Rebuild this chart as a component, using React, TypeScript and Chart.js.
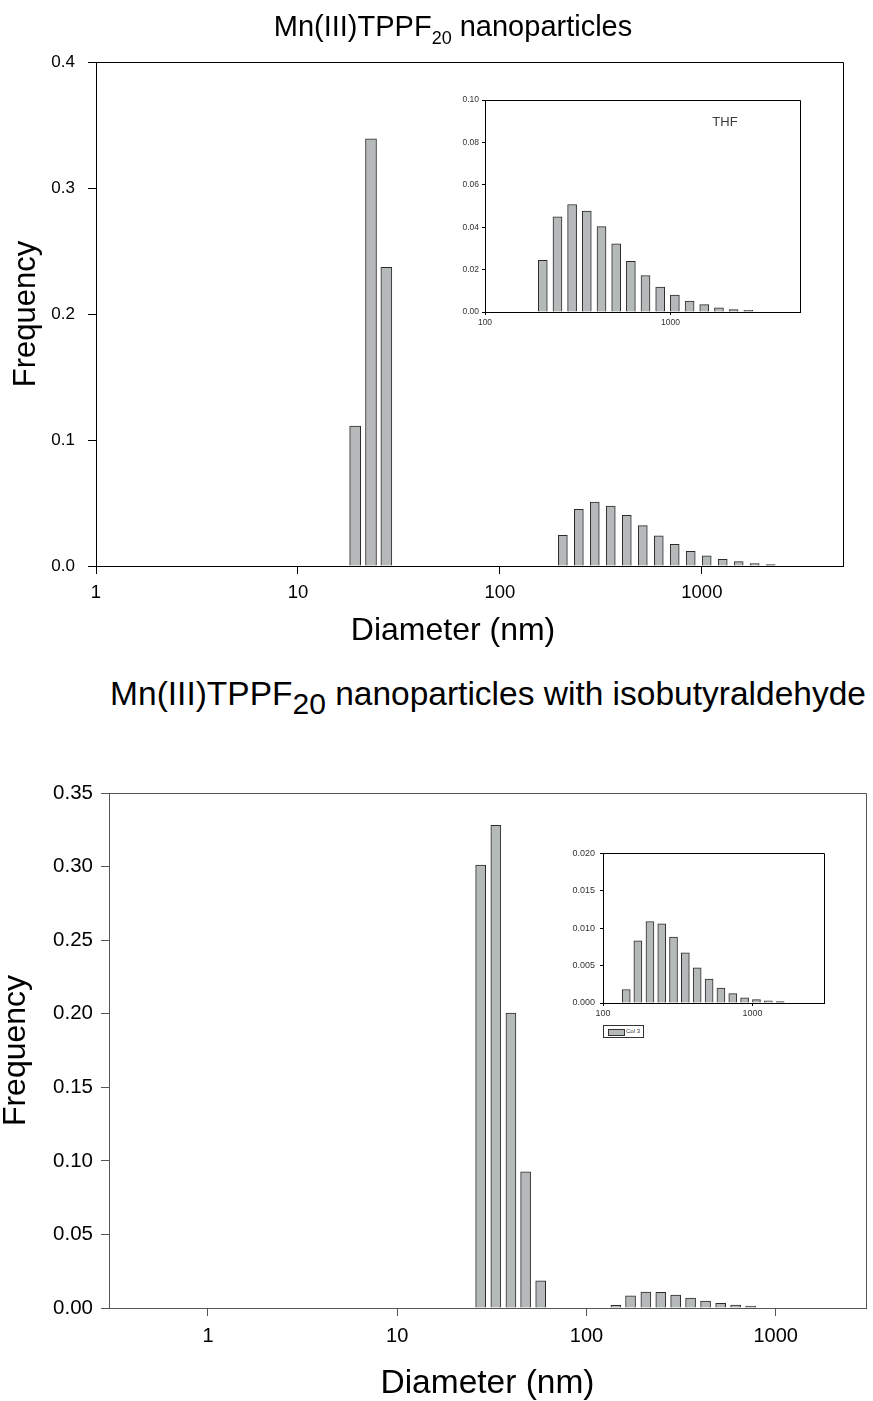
import React, { useEffect, useRef } from 'react';
import { Chart, registerables } from 'chart.js';

Chart.register(...registerables);

const FONT = "'Liberation Sans', Arial, Helvetica, sans-serif";
const BAR_FILL = '#b5b9b9';
const BAR_EDGE = '#2b2b2b';

// ---------- Top panel: Mn(III)TPPF20 nanoparticles (THF) ----------
const thfPeakDiameter = [19.2, 23.0, 27.4];
const thfPeakFreq = [0.111, 0.339, 0.237];
const thfTailDiameter = [205, 246, 295, 354, 425, 510, 612, 734, 881, 1057, 1269, 1522, 1827, 2192, 2631];
const thfTailFreq = [0.0244, 0.0449, 0.0507, 0.0476, 0.0403, 0.0321, 0.0239, 0.0172, 0.0117, 0.008, 0.0052, 0.0035, 0.002, 0.0011, 0.0008];
const topXTicks = [1, 10, 100, 1000];
const topYTicks = [0, 0.1, 0.2, 0.3, 0.4];
const insetTopXTicks = [100, 1000];
const insetTopYTicks = [0, 0.02, 0.04, 0.06, 0.08, 0.1];

// ---------- Bottom panel: with isobutyraldehyde ----------
const isoPeakDiameter = [27.6, 33.2, 39.9, 47.7, 57.3];
const isoPeakFreq = [0.301, 0.328, 0.2005, 0.0925, 0.0184];
const isoTailDiameter = [143, 171, 206, 247, 296, 355, 426, 512, 614, 737, 884, 1061, 1273, 1528, 1834];
const isoTailFreq = [0.0018, 0.0083, 0.0109, 0.0106, 0.0088, 0.0067, 0.0047, 0.0032, 0.002, 0.00125, 0.0007, 0.00045, 0.0003, 0.00018, 0.00013];
const bottomXTicks = [1, 10, 100, 1000];
const bottomYTicks = [0, 0.05, 0.1, 0.15, 0.2, 0.25, 0.3, 0.35];
const insetBottomXTicks = [100, 1000];
const insetBottomYTicks = [0, 0.005, 0.01, 0.015, 0.02];

type Series = { label: string; x: number[]; y: number[]; thickness: number };
type TitleSpec = { text: string; size: number; lineHeight: number; pad: number };
type Spec = {
  left: number;
  top: number;
  width: number;
  height: number;
  padTop: number;
  padRight: number;
  yWidth: number;
  xHeight: number;
  xMin: number;
  xMax: number;
  yMax: number;
  xTicks: number[];
  yTicks: number[];
  yDecimals: number;
  series: Series[];
  xTickSize: number;
  yTickSize: number;
  tickLength: number;
  xTickPad: number;
  yTickPad: number;
  axisColor: string;
  labelColor: string;
  yTitle?: TitleSpec;
  xTitle?: TitleSpec;
};

// bars shorter than about one pixel are not rendered by the original plotting program
function barHeightPx(ctx: any): number {
  const y = ctx.chart.scales.y;
  const raw = ctx.raw as { y: number } | undefined;
  if (!y || !raw) return 99;
  return y.getPixelForValue(0) - y.getPixelForValue(raw.y);
}

function buildConfig(spec: Spec): any {
  const alignPx = (p: number) => Math.round(p - 0.5) + 0.5;
  const frame = {
    id: 'frameBox',
    afterDraw(chart: any) {
      const { ctx, chartArea } = chart;
      const l = alignPx(chartArea.left);
      const r = alignPx(chartArea.right);
      const t = alignPx(chartArea.top);
      const b = alignPx(chartArea.bottom);
      ctx.save();
      ctx.strokeStyle = spec.axisColor;
      ctx.lineWidth = 1;
      ctx.beginPath();
      ctx.moveTo(l, t);
      ctx.lineTo(r, t);
      ctx.lineTo(r, b);
      ctx.stroke();
      ctx.restore();
    },
  };
  return {
    type: 'bar',
    data: {
      datasets: spec.series.map((s) => ({
        label: s.label,
        data: s.x.map((x, j) => ({ x, y: s.y[j] })),
        backgroundColor: (ctx: any) => (barHeightPx(ctx) < 1.1 ? 'rgba(0,0,0,0)' : BAR_FILL),
        borderColor: (ctx: any) => (barHeightPx(ctx) < 1.1 ? 'rgba(0,0,0,0)' : BAR_EDGE),
        borderWidth: 1,
        grouped: false,
        barThickness: s.thickness,
        maxBarThickness: s.thickness,
      })),
    },
    options: {
      responsive: false,
      animation: false,
      devicePixelRatio: 1,
      layout: { padding: { top: spec.padTop, right: spec.padRight, left: 0, bottom: 0 } },
      plugins: { legend: { display: false }, tooltip: { enabled: false }, title: { display: false } },
      scales: {
        x: {
          type: 'logarithmic',
          position: 'bottom',
          min: spec.xMin,
          max: spec.xMax,
          offset: false,
          afterBuildTicks: (scale: any) => {
            scale.ticks = spec.xTicks.map((v) => ({ value: v }));
          },
          afterFit: (scale: any) => {
            scale.height = spec.xHeight;
          },
          grid: {
            display: true,
            offset: false,
            drawOnChartArea: false,
            drawTicks: true,
            tickLength: spec.tickLength,
            color: spec.axisColor,
            lineWidth: 1,
          },
          border: { display: true, color: spec.axisColor, width: 1 },
          ticks: {
            autoSkip: false,
            maxRotation: 0,
            minRotation: 0,
            padding: spec.xTickPad,
            color: spec.labelColor,
            font: { family: FONT, size: spec.xTickSize },
            callback: (v: any) => String(v),
          },
          title: spec.xTitle
            ? {
                display: true,
                text: spec.xTitle.text,
                color: '#000',
                font: { family: FONT, size: spec.xTitle.size, lineHeight: spec.xTitle.lineHeight },
                padding: { top: 0, bottom: spec.xTitle.pad },
              }
            : { display: false },
        },
        y: {
          type: 'linear',
          position: 'left',
          min: 0,
          max: spec.yMax,
          afterBuildTicks: (scale: any) => {
            scale.ticks = spec.yTicks.map((v) => ({ value: v }));
          },
          afterFit: (scale: any) => {
            scale.width = spec.yWidth;
          },
          grid: {
            display: true,
            drawOnChartArea: false,
            drawTicks: true,
            tickLength: spec.tickLength,
            color: spec.axisColor,
            lineWidth: 1,
          },
          border: { display: true, color: spec.axisColor, width: 1 },
          ticks: {
            autoSkip: false,
            padding: spec.yTickPad,
            color: spec.labelColor,
            font: { family: FONT, size: spec.yTickSize },
            callback: (v: any) => Number(v).toFixed(spec.yDecimals),
          },
          title: spec.yTitle
            ? {
                display: true,
                text: spec.yTitle.text,
                color: '#000',
                font: { family: FONT, size: spec.yTitle.size, lineHeight: spec.yTitle.lineHeight },
                padding: { top: spec.yTitle.pad, bottom: 0 },
              }
            : { display: false },
        },
      },
    },
    plugins: [frame],
  };
}

function Panel({ spec }: { spec: Spec }) {
  const ref = useRef<HTMLCanvasElement | null>(null);
  useEffect(() => {
    if (!ref.current) return;
    const chart = new Chart(ref.current, buildConfig(spec));
    return () => chart.destroy();
  }, []);
  return (
    <canvas
      ref={ref}
      width={spec.width}
      height={spec.height}
      style={{ position: 'absolute', left: spec.left, top: spec.top, width: spec.width, height: spec.height }}
    />
  );
}

const topMain: Spec = {
  left: 0, top: 0, width: 873, height: 660,
  padTop: 62, padRight: 30, yWidth: 96, xHeight: 94,
  xMin: 1, xMax: 5000, yMax: 0.4,
  xTicks: topXTicks, yTicks: topYTicks, yDecimals: 1,
  series: [
    { label: 'THF peak', x: thfPeakDiameter, y: thfPeakFreq, thickness: 11 },
    { label: 'THF tail', x: thfTailDiameter, y: thfTailFreq, thickness: 9 },
  ],
  xTickSize: 18.5, yTickSize: 17, tickLength: 8, xTickPad: 8, yTickPad: 13,
  axisColor: '#000', labelColor: '#000',
  yTitle: { text: 'Frequency', size: 31, lineHeight: 1.2, pad: 8 },
};

const topInset: Spec = {
  left: 440, top: 90, width: 380, height: 250,
  padTop: 10, padRight: 20, yWidth: 45, xHeight: 28,
  xMin: 100, xMax: 5000, yMax: 0.1,
  xTicks: insetTopXTicks, yTicks: insetTopYTicks, yDecimals: 2,
  series: [{ label: 'THF', x: thfTailDiameter, y: thfTailFreq, thickness: 9 }],
  xTickSize: 8.5, yTickSize: 8.5, tickLength: 3, xTickPad: 3, yTickPad: 3,
  axisColor: '#000', labelColor: '#333',
};

const bottomMain: Spec = {
  left: 0, top: 740, width: 873, height: 661,
  padTop: 53, padRight: 7, yWidth: 109, xHeight: 93,
  xMin: 0.3, xMax: 3000, yMax: 0.35,
  xTicks: bottomXTicks, yTicks: bottomYTicks, yDecimals: 2,
  series: [
    { label: 'Col 2', x: isoPeakDiameter, y: isoPeakFreq, thickness: 10 },
    { label: 'Col 3', x: isoTailDiameter, y: isoTailFreq, thickness: 10 },
  ],
  xTickSize: 20, yTickSize: 20.5, tickLength: 8, xTickPad: 8, yTickPad: 8,
  axisColor: '#555', labelColor: '#000',
  yTitle: { text: 'Frequency', size: 32, lineHeight: 1, pad: 0 },
  xTitle: { text: 'Diameter (nm)', size: 33.5, lineHeight: 1, pad: 0 },
};

const bottomInset: Spec = {
  left: 555, top: 843, width: 280, height: 180,
  padTop: 10, padRight: 11, yWidth: 48, xHeight: 20,
  xMin: 100, xMax: 3000, yMax: 0.02,
  xTicks: insetBottomXTicks, yTicks: insetBottomYTicks, yDecimals: 3,
  series: [{ label: 'Col 3', x: isoTailDiameter, y: isoTailFreq, thickness: 8 }],
  xTickSize: 9, yTickSize: 9, tickLength: 3, xTickPad: 2, yTickPad: 5,
  axisColor: '#000', labelColor: '#333',
};

const textBase: React.CSSProperties = {
  position: 'absolute',
  fontFamily: FONT,
  color: '#000',
  whiteSpace: 'nowrap',
  transform: 'translateX(-50%)',
};

export default function App() {
  return (
    <div style={{ position: 'absolute', left: 0, top: 0, width: 873, height: 1401, background: '#fff', overflow: 'hidden' }}>
      <Panel spec={topMain} />
      <Panel spec={topInset} />
      <Panel spec={bottomMain} />
      <Panel spec={bottomInset} />

      <div style={{ ...textBase, left: 453, top: 12, fontSize: 29, lineHeight: '29px' }}>
        Mn(III)TPPF<span style={{ fontSize: 18, position: 'relative', top: 8 }}>20</span> nanoparticles
      </div>
      <div style={{ ...textBase, left: 453, top: 613, fontSize: 32, lineHeight: '32px' }}>Diameter (nm)</div>
      <div style={{ ...textBase, left: 725, top: 115, fontSize: 13, lineHeight: '13px', color: '#3a3a3a' }}>THF</div>

      <div style={{ ...textBase, left: 488, top: 677, fontSize: 33.5, lineHeight: '33.5px' }}>
        Mn(III)TPPF<span style={{ fontSize: 30, position: 'relative', top: 9 }}>20</span> nanoparticles with isobutyraldehyde
      </div>

      <div
        style={{
          position: 'absolute', left: 603, top: 1025, width: 41, height: 13,
          border: '1px solid #333', boxSizing: 'border-box', background: '#fff',
        }}
      >
        <div style={{ position: 'absolute', left: 4, top: 3, width: 15, height: 5, background: BAR_FILL, border: '1px solid #333' }} />
        <div style={{ position: 'absolute', left: 22, top: 2, fontFamily: FONT, fontSize: 6, lineHeight: '7px', color: '#333', whiteSpace: 'nowrap' }}>Col 3</div>
      </div>
    </div>
  );
}
